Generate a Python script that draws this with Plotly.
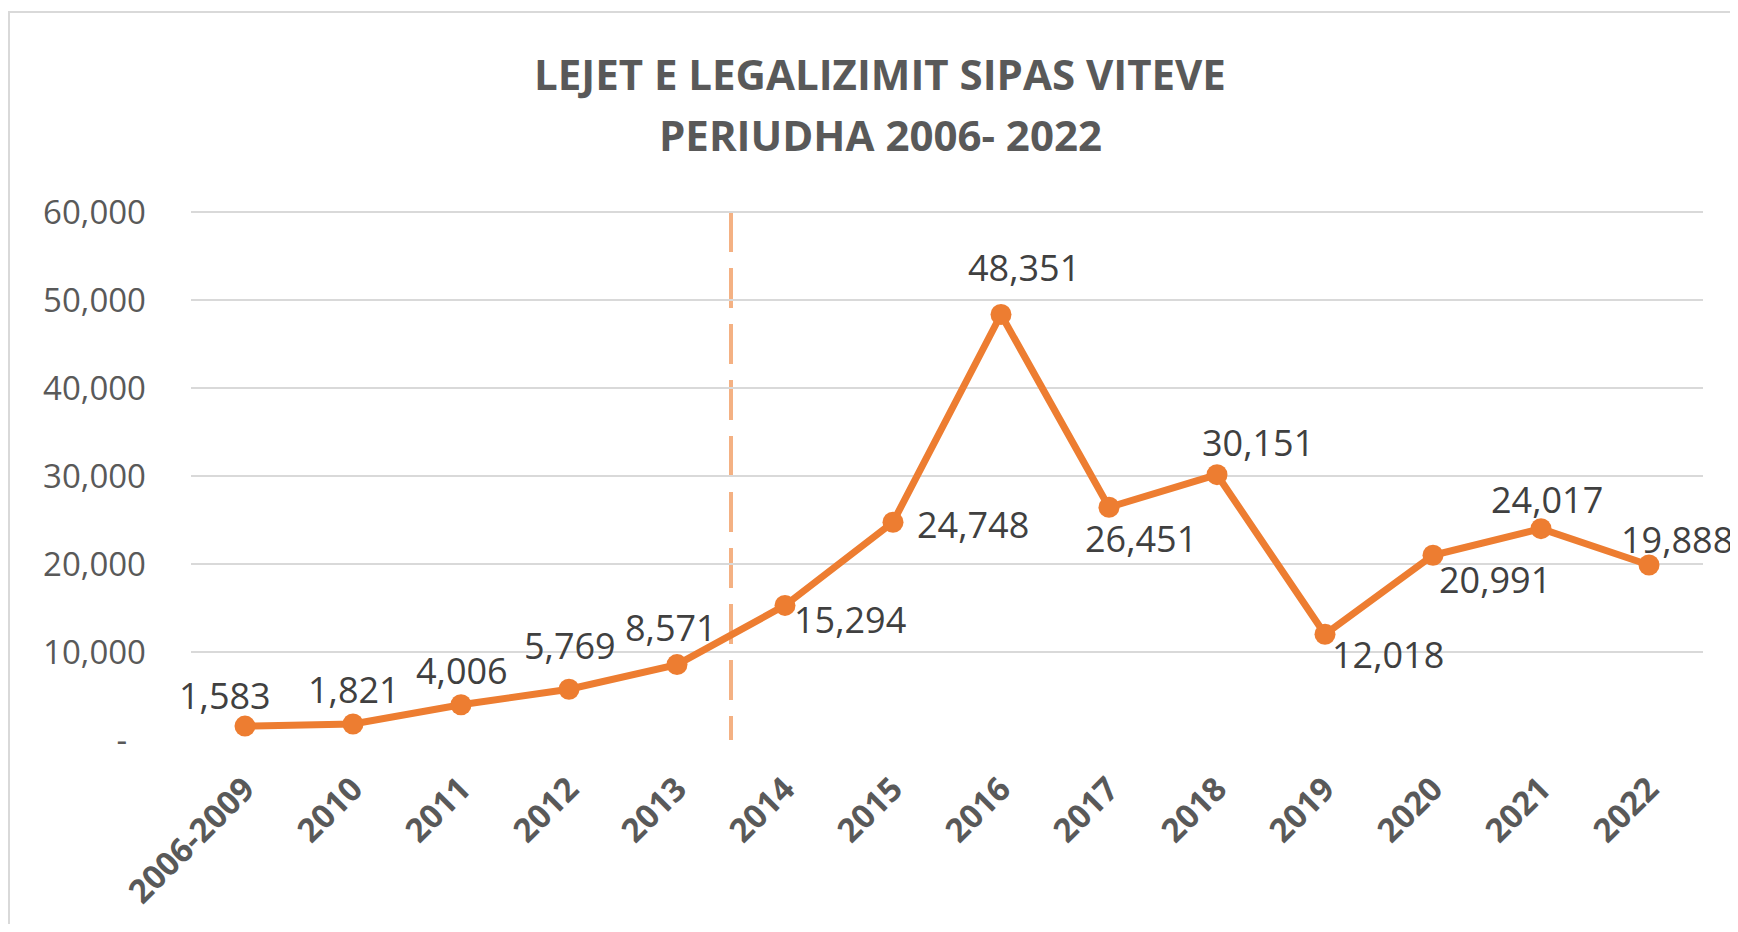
import plotly.graph_objects as go

categories = ["2006-2009", "2010", "2011", "2012", "2013", "2014", "2015",
              "2016", "2017", "2018", "2019", "2020", "2021", "2022"]
permits = [1583, 1821, 4006, 5769, 8571, 15294, 24748,
           48351, 26451, 30151, 12018, 20991, 24017, 19888]
y_ticks = [0, 10000, 20000, 30000, 40000, 50000, 60000]
y_tick_labels = ["-\u2007", "10,000", "20,000", "30,000", "40,000", "50,000", "60,000"]
title_lines = ["LEJET E LEGALIZIMIT SIPAS VITEVE", "PERIUDHA 2006- 2022"]
split_after = "2013"

# zhvendosja e etiketave nga pika (px, poshte = pozitive)
label_offsets = [(-20, -31), (1, -34), (1, -34), (1, -44), (-6, -37),
                 (65, 14), (80, 2), (23, -47), (32, 31), (41, -32),
                 (63, 20), (62, 24), (6, -29), (28, -25)]

# faqja html ka 8px margin, keshtu qe figura zhvendoset pak
PAGE_W, PAGE_H, BODY = 1738, 932, 8
W, H = PAGE_W - BODY, PAGE_H - 2 * BODY
PAD = 3  # hapesire mbi vijen 60,000 qe te vizatohet
L, T = 191 - BODY, 212 - BODY - PAD
R = W - (1703 - BODY)
B = H - (740 - BODY)
plot_w = W - L - R
plot_h = H - T - B
y_top = max(y_ticks) * plot_h / (plot_h - PAD)


def px_x(p):
    return (p - BODY - L) / plot_w


def px_y(p):
    return (H - B - (p - BODY)) / plot_h


FONT = "Open Sans"
ORANGE = "#ED7D31"

fig = go.Figure()
fig.add_trace(go.Scatter(
    x=categories, y=permits,
    mode="lines+markers",
    line=dict(color=ORANGE, width=7),
    marker=dict(color=ORANGE, size=21),
    cliponaxis=False,
    hoverinfo="x+y",
    showlegend=False,
))

for i, (val, (dx, dy)) in enumerate(zip(permits, label_offsets)):
    fig.add_annotation(x=i, y=val, text=f"{val:,}", showarrow=False,
                       xanchor="center", yanchor="middle",
                       xshift=dx, yshift=-dy,
                       font=dict(family=FONT, size=36, color="#404040"))

# linja e ndarjes 2013/2014
split_idx = categories.index(split_after) + 0.5
fig.add_shape(type="line", xref="x", yref="y",
              x0=split_idx, x1=split_idx, y0=max(y_ticks), y1=0,
              line=dict(color="#F4B183", width=4, dash="40px,16px"), layer="below")

# korniza e grafikut
fig.add_shape(type="rect", xref="paper", yref="paper",
              x0=px_x(9), x1=px_x(PAGE_W + 20), y0=px_y(PAGE_H + 20), y1=px_y(12),
              line=dict(color="#D9D9D9", width=2), fillcolor="rgba(0,0,0,0)")

for line_text, py in zip(title_lines, [73, 134]):
    fig.add_annotation(text=f"<b>{line_text}</b>", xref="paper", yref="paper",
                       x=px_x(880), y=px_y(py), xanchor="center", yanchor="middle",
                       showarrow=False,
                       font=dict(family=FONT, size=42, color="#595959"))

fig.update_layout(
    width=W, height=H,
    paper_bgcolor="white", plot_bgcolor="white",
    margin=dict(l=L, r=R, t=T, b=B),
    xaxis=dict(
        type="category", range=[-0.5, len(categories) - 0.5],
        tickangle=-45, showgrid=False, showline=False, zeroline=False,
        tickfont=dict(family=FONT, size=33, color="#595959", weight="bold"),
        ticks="", ticklabelstandoff=22,
    ),
    yaxis=dict(
        range=[0, y_top], tickvals=y_ticks, ticktext=y_tick_labels,
        showgrid=True, gridcolor="#D9D9D9", gridwidth=2,
        zeroline=False, showline=False, ticks="",
        tickfont=dict(family=FONT, size=33, color="#595959"),
        ticklabelstandoff=44,
    ),
)

fig.write_html("out.html")
